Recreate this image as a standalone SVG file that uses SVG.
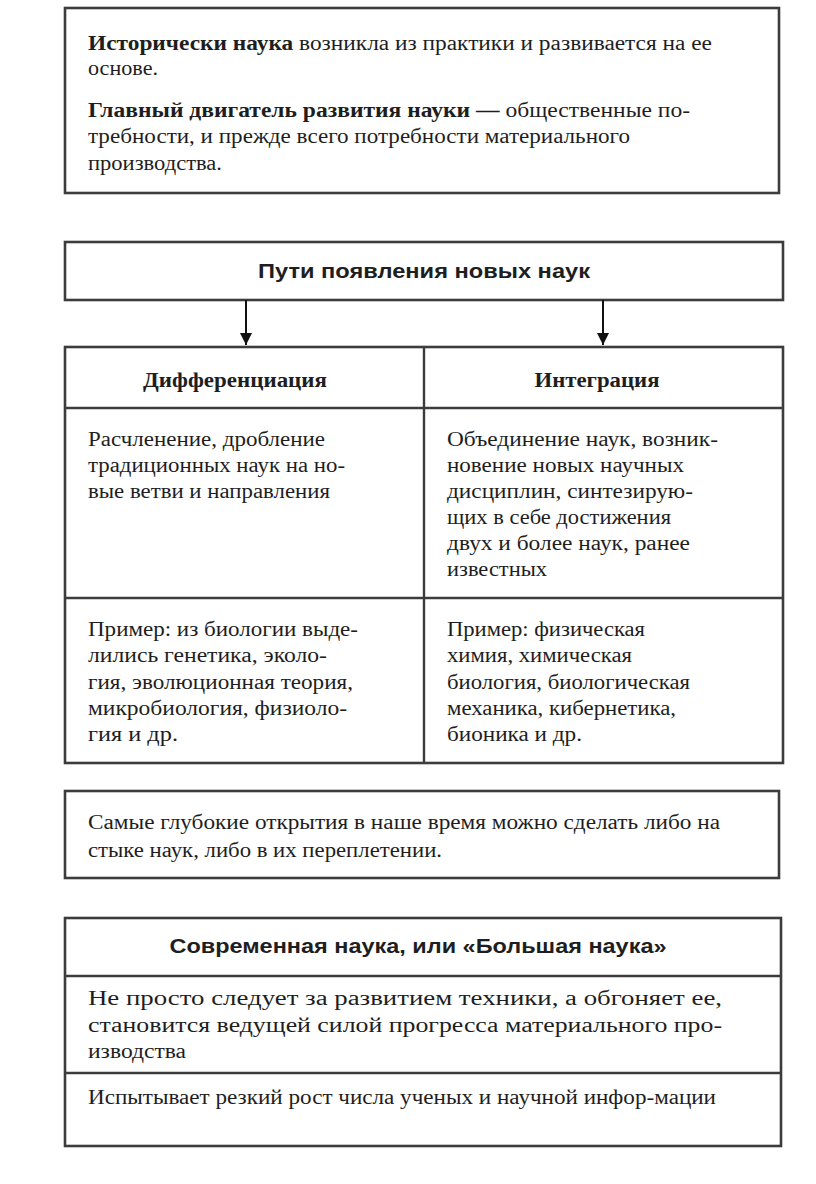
<svg xmlns="http://www.w3.org/2000/svg" width="816" height="1184" viewBox="0 0 816 1184">
<defs>
<marker id="arr" viewBox="0 0 10 10" refX="10" refY="5" markerWidth="12" markerHeight="12" markerUnits="userSpaceOnUse" orient="auto">
<path d="M0,0 L10,5 L0,10 z" fill="#111"/>
</marker>
</defs>
<style>
.box{fill:#fff;stroke:#3c3c3c;stroke-width:2.6}
.div{stroke:#3c3c3c;stroke-width:2.4;fill:none}
.t{font-family:'Liberation Serif','DejaVu Serif',serif;font-size:20.5px;fill:#1e1e1e}
.b{font-weight:bold}
.h{font-family:'Liberation Sans','DejaVu Sans',sans-serif;font-size:20px;font-weight:bold;fill:#1e1e1e}
.con{stroke:#111;stroke-width:2;fill:none}
</style>
<rect width="816" height="1184" fill="#fff"/>

<g id="intro">
<rect class="box" x="65" y="8" width="714" height="185"/>
<text class="t" x="88" y="50" textLength="624" lengthAdjust="spacingAndGlyphs"><tspan class="b">Исторически наука</tspan> возникла из практики и развивается на ее</text>
<text class="t" x="88" y="75" textLength="70" lengthAdjust="spacingAndGlyphs">основе.</text>
<text class="t" x="88" y="117" textLength="602" lengthAdjust="spacingAndGlyphs"><tspan class="b">Главный двигатель развития науки —</tspan> общественные  по-</text>
<text class="t" x="88" y="143" textLength="542" lengthAdjust="spacingAndGlyphs">требности, и прежде всего потребности  материального</text>
<text class="t" x="88" y="170" textLength="134" lengthAdjust="spacingAndGlyphs">производства.</text>
</g>

<g id="ways">
<rect class="box" x="65" y="242" width="718" height="58"/>
<text class="h" x="424" y="278" text-anchor="middle" textLength="332" lengthAdjust="spacingAndGlyphs">Пути появления новых наук</text>
</g>

<g id="connectors">
<line class="con" x1="246" y1="300" x2="246" y2="345" marker-end="url(#arr)"/>
<line class="con" x1="603" y1="300" x2="603" y2="345" marker-end="url(#arr)"/>
</g>

<g id="table">
<rect class="box" x="65" y="347" width="718" height="416"/>
<line class="div" x1="65" y1="408" x2="783" y2="408"/>
<line class="div" x1="65" y1="598" x2="783" y2="598"/>
<line class="div" x1="424" y1="347" x2="424" y2="763"/>
</g>

<g id="differentiation">
<text class="t b" x="235" y="387" text-anchor="middle" textLength="184" lengthAdjust="spacingAndGlyphs">Дифференциация</text>
<text class="t" x="88" y="446" textLength="237" lengthAdjust="spacingAndGlyphs">Расчленение,  дробление</text>
<text class="t" x="88" y="472" textLength="257" lengthAdjust="spacingAndGlyphs">традиционных  наук на но-</text>
<text class="t" x="88" y="498" textLength="242" lengthAdjust="spacingAndGlyphs">вые ветви и направления</text>
<text class="t" x="88" y="636" textLength="270" lengthAdjust="spacingAndGlyphs">Пример: из  биологии выде-</text>
<text class="t" x="88" y="662" textLength="239" lengthAdjust="spacingAndGlyphs">лились генетика,  эколо-</text>
<text class="t" x="88" y="689" textLength="265" lengthAdjust="spacingAndGlyphs">гия, эволюционная  теория,</text>
<text class="t" x="88" y="715" textLength="259" lengthAdjust="spacingAndGlyphs">микробиология, физиоло-</text>
<text class="t" x="88" y="741" textLength="90" lengthAdjust="spacingAndGlyphs">гия и др.</text>
</g>

<g id="integration">
<text class="t b" x="597" y="387" text-anchor="middle" textLength="125" lengthAdjust="spacingAndGlyphs">Интеграция</text>
<text class="t" x="447" y="446" textLength="271" lengthAdjust="spacingAndGlyphs">Объединение  наук, возник-</text>
<text class="t" x="447" y="472" textLength="237" lengthAdjust="spacingAndGlyphs">новение новых научных</text>
<text class="t" x="447" y="498" textLength="246" lengthAdjust="spacingAndGlyphs">дисциплин,  синтезирую-</text>
<text class="t" x="447" y="524" textLength="224" lengthAdjust="spacingAndGlyphs">щих в себе достижения</text>
<text class="t" x="447" y="550" textLength="243" lengthAdjust="spacingAndGlyphs">двух и более наук, ранее</text>
<text class="t" x="447" y="576" textLength="100" lengthAdjust="spacingAndGlyphs">известных</text>
<text class="t" x="447" y="636" textLength="198" lengthAdjust="spacingAndGlyphs">Пример: физическая</text>
<text class="t" x="447" y="662" textLength="185" lengthAdjust="spacingAndGlyphs">химия, химическая</text>
<text class="t" x="447" y="689" textLength="243" lengthAdjust="spacingAndGlyphs">биология, биологическая</text>
<text class="t" x="447" y="715" textLength="229" lengthAdjust="spacingAndGlyphs">механика, кибернетика,</text>
<text class="t" x="447" y="741" textLength="135" lengthAdjust="spacingAndGlyphs">бионика и др.</text>
</g>

<g id="discoveries">
<rect class="box" x="65" y="791" width="714" height="87"/>
<text class="t" x="88" y="829" textLength="632" lengthAdjust="spacingAndGlyphs">Самые глубокие открытия в наше время можно сделать либо на</text>
<text class="t" x="88" y="857" textLength="354" lengthAdjust="spacingAndGlyphs">стыке наук, либо в их переплетении.</text>
</g>

<g id="big-science">
<rect class="box" x="65" y="918" width="716" height="228"/>
<line class="div" x1="65" y1="976" x2="781" y2="976"/>
<line class="div" x1="65" y1="1073" x2="781" y2="1073"/>
<text class="h" x="418" y="953" text-anchor="middle" textLength="497" lengthAdjust="spacingAndGlyphs">Современная наука, или «Большая наука»</text>
<text class="t" x="88" y="1005" textLength="634" lengthAdjust="spacingAndGlyphs">Не  просто  следует  за  развитием  техники,  а  обгоняет  ее,</text>
<text class="t" x="88" y="1032" textLength="634" lengthAdjust="spacingAndGlyphs">становится  ведущей  силой  прогресса  материального  про-</text>
<text class="t" x="88" y="1058" textLength="98" lengthAdjust="spacingAndGlyphs">изводства</text>
<text class="t" x="88" y="1104" textLength="628" lengthAdjust="spacingAndGlyphs">Испытывает резкий рост числа ученых и научной  инфор-мации</text>
</g>
</svg>
